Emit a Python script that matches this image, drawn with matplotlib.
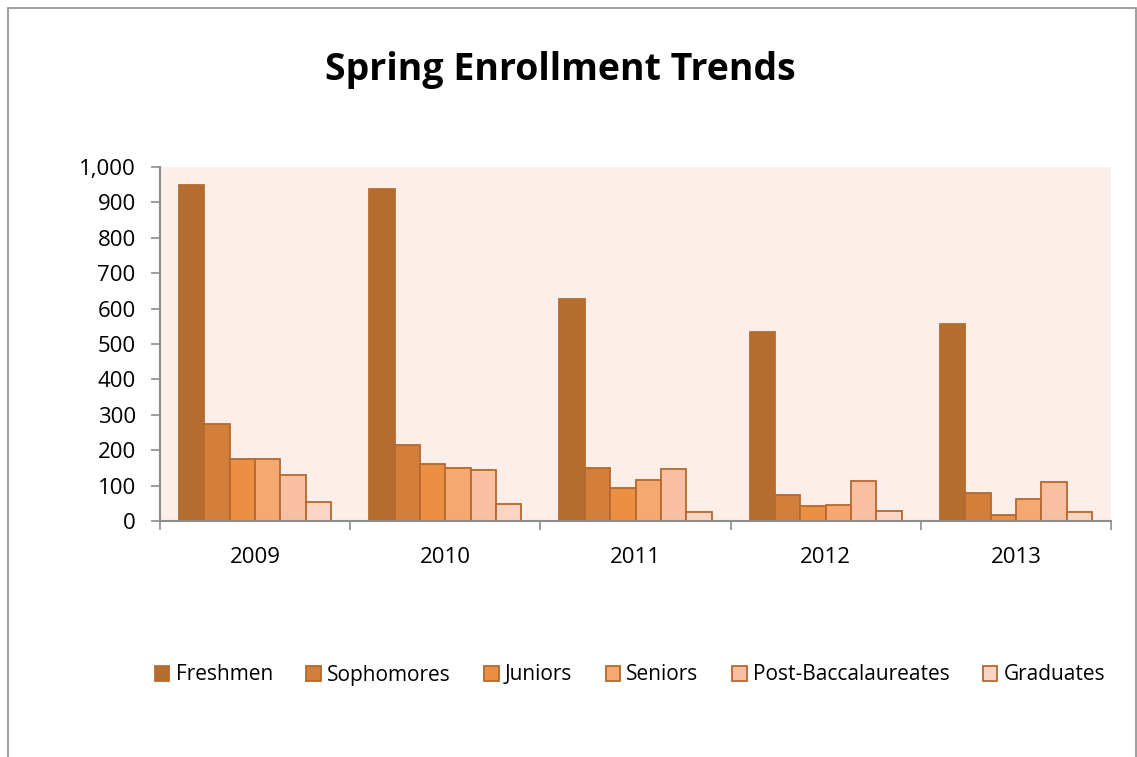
import numpy as np
import matplotlib.pyplot as plt
from matplotlib.patches import Rectangle
from matplotlib.ticker import FuncFormatter

years = ["2009", "2010", "2011", "2012", "2013"]
series = ["Freshmen", "Sophomores", "Juniors", "Seniors", "Post-Baccalaureates", "Graduates"]
freshmen = [950, 938, 627, 533, 556]
sophomores = [275, 215, 151, 73, 80]
juniors = [176, 162, 94, 43, 18]
seniors = [174, 151, 117, 45, 62]
post_bacc = [129, 144, 146, 112, 111]
graduates = [55, 49, 26, 28, 26]
values = [freshmen, sophomores, juniors, seniors, post_bacc, graduates]

colors = ["#B56D2F", "#D37E3A", "#EB8F43", "#F6A86F", "#F8BFA0", "#FAD5C3"]
edge = "#B5692E"

plt.rcParams['font.family'] = ['Open Sans', 'DejaVu Sans']

fig = plt.figure(figsize=(11.37, 7.57), dpi=100)
W, H = 1137, 757
ax = fig.add_axes([160 / W, 1 - 521 / H, 951 / W, 354 / H])
ax.set_facecolor("#FCEEE9")

# outer chart border
fig.patches.append(Rectangle((8 / W, -0.01), (1136 - 8) / W, 1 - 8 / H + 0.01,
                             transform=fig.transFigure, fill=False,
                             edgecolor="#8C8C8C", linewidth=1.2))

bw = 1 / 7.5
x = np.arange(len(years))
for i, (name, vals) in enumerate(zip(series, values)):
    pos = x - 0.5 + 0.75 * bw + (i + 0.5) * bw
    ax.bar(pos, vals, width=bw, color=colors[i], edgecolor=edge if i > 0 else colors[0],
           linewidth=1.3, label=name)

ax.set_xlim(-0.5, len(years) - 0.5)
ax.set_ylim(0, 1000)
ax.set_yticks(np.arange(0, 1001, 100))
ax.yaxis.set_major_formatter(FuncFormatter(lambda v, p: f"{int(v):,}"))
ax.set_xticks(x)
ax.set_xticklabels(years)
ax.set_xticks(np.arange(-0.5, len(years)), minor=True)
ax.tick_params(axis='x', which='major', length=0, labelsize=16, pad=19)
ax.tick_params(axis='x', which='minor', length=6.5, color="#8C8C8C", width=1.2)
ax.tick_params(axis='y', length=6.5, color="#8C8C8C", width=1.2, labelsize=16, pad=11)
for s in ["top", "right"]:
    ax.spines[s].set_visible(False)
for s in ["left", "bottom"]:
    ax.spines[s].set_color("#8C8C8C")
    ax.spines[s].set_linewidth(1.5)

fig.text(560 / W, 1 - 70 / H, "Spring Enrollment Trends", ha="center", va="center",
         fontsize=27, fontweight="bold")

fig.legend(loc="center", bbox_to_anchor=(630 / W, 1 - 675 / H), ncol=6, frameon=False,
           fontsize=15, handlelength=0.7, handleheight=0.7, handletextpad=0.3,
           columnspacing=1.6)

fig.savefig("out.png", dpi=100, facecolor="white")
